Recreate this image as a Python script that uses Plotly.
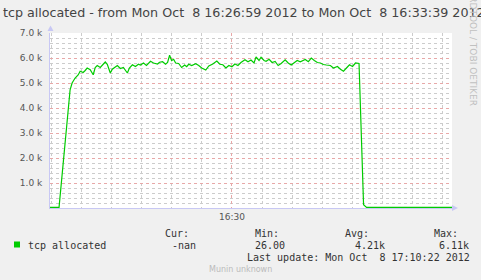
import plotly.graph_objects as go
import pandas as pd

title_text = "tcp allocated - from Mon Oct  8 16:26:59 2012 to Mon Oct  8 16:33:39 2012"
start_time = "2012-10-08 16:26:59"
end_time = "2012-10-08 16:33:39"

offsets_s = [0, 9, 20, 22, 25, 28, 30, 33, 35, 37, 40, 43, 45, 47, 50, 52, 55, 57, 60, 62,
             65, 67, 70, 73, 77, 79, 82, 85, 88, 90, 93, 96, 100, 103, 107, 109, 112, 115, 117, 119,
             121, 123, 125, 128, 131, 134, 136, 138, 141, 145, 148, 151, 155, 158, 162, 166, 169, 172, 175, 178,
             181, 184, 187, 190, 194, 197, 200, 203, 205, 208, 210, 213, 215, 218, 221, 224, 227, 230, 234, 237,
             240, 243, 246, 249, 252, 254, 257, 260, 263, 266, 269, 272, 275, 279, 282, 286, 289, 292, 295, 298,
             301, 304, 307.5, 312, 315, 400]
tcp_allocated = [26, 26, 4730, 5000, 5200, 5320, 5470, 5420, 5500, 5600, 5530, 5330, 5620, 5700, 5620, 5700, 5840, 5750, 5400, 5550,
                 5620, 5700, 5580, 5620, 5400, 5600, 5730, 5660, 5750, 5720, 5800, 5700, 5870, 5800, 5760, 5830, 5850, 5750, 5820, 6110,
                 5900, 5950, 5800, 5780, 5620, 5720, 5650, 5750, 5700, 5770, 5700, 5600, 5520, 5680, 5760, 5880, 5750, 5730, 5600, 5700,
                 5650, 5760, 5700, 5820, 5930, 5850, 5920, 5800, 6040, 5900, 6030, 5900, 5870, 5950, 5820, 5860, 5700, 5780, 5930, 5800,
                 5720, 5830, 5900, 5850, 5900, 5940, 5850, 6000, 5900, 5820, 5800, 5740, 5720, 5700, 5600, 5660, 5550, 5470, 5600, 5730,
                 5660, 5800, 5780, 130, 26, 26]

y_tick_vals = [1000, 2000, 3000, 4000, 5000, 6000, 7000]
y_tick_text = ["1.0 k", "2.0 k", "3.0 k", "4.0 k", "5.0 k", "6.0 k", "7.0 k"]
x_tick_vals = ["2012-10-08 16:30:00"]
x_tick_text = ["16:30"]

legend_name = "tcp allocated"
stat_headers = ["Cur:", "Min:", "Avg:", "Max:"]
stat_values = ["-nan", "26.00", "4.21k", "6.11k"]
last_update = "Last update: Mon Oct  8 17:10:22 2012"
footer = "Munin unknown"
watermark = "RRDTOOL / TOBI OETIKER"

times = pd.Timestamp(start_time) + pd.to_timedelta(offsets_s, unit="s")

W, H = 481, 280
L, R, T, B = 50, 29, 33, 72
PW, PH = W - L - R, H - T - B


def px(x):
    return (x - L) / PW


def py(y):
    return (H - B - y) / PH


fig = go.Figure()
fig.add_trace(go.Scatter(x=times, y=tcp_allocated, mode="lines",
                         line=dict(color="#00CC00", width=1.2), name=legend_name,
                         showlegend=False))

mono = "DejaVu Sans Mono"
sans = "DejaVu Sans"
txt = "#333333"

ann = []
ann.append(dict(text=title_text, x=px(1), y=py(13), xref="paper", yref="paper",
                xanchor="left", yanchor="middle", showarrow=False,
                font=dict(family=sans, size=12.7, color="#444444")))
ann.append(dict(text=watermark, x=px(473), y=py(108), xref="paper", yref="paper",
                xanchor="center", yanchor="bottom", showarrow=False, textangle=90,
                font=dict(family=sans, size=9, color="#C0C0C0")))
hdr_x = [163, 253, 343, 432]
val_x = [170, 253, 353, 437]
for h, xx in zip(stat_headers, hdr_x):
    ann.append(dict(text=h, x=px(xx), y=py(233), xref="paper", yref="paper",
                    xanchor="left", yanchor="middle", showarrow=False,
                    font=dict(family=mono, size=10, color=txt)))
for v, xx in zip(stat_values, val_x):
    ann.append(dict(text=v, x=px(xx), y=py(245), xref="paper", yref="paper",
                    xanchor="left", yanchor="middle", showarrow=False,
                    font=dict(family=mono, size=10, color=txt)))
ann.append(dict(text=legend_name, x=px(26), y=py(245), xref="paper", yref="paper",
                xanchor="left", yanchor="middle", showarrow=False,
                font=dict(family=mono, size=10, color=txt)))
ann.append(dict(text=last_update, x=px(245), y=py(257), xref="paper", yref="paper",
                xanchor="left", yanchor="middle", showarrow=False,
                font=dict(family=mono, size=10, color=txt)))
ann.append(dict(text=footer, x=px(240.5), y=py(269), xref="paper", yref="paper",
                xanchor="center", yanchor="middle", showarrow=False,
                font=dict(family=sans, size=8, color="#BBBBBB")))

axis_col = "#C8C8F4"
shapes = [
    dict(type="rect", xref="paper", yref="paper", x0=px(14), x1=px(20), y0=py(241.5), y1=py(247.5),
         fillcolor="#00CC00", line=dict(width=0)),
    dict(type="path", xref="paper", yref="paper",
         path=f"M {px(47.5)} {py(31)} L {px(50.5)} {py(25.5)} L {px(53.5)} {py(31)} Z",
         fillcolor=axis_col, line=dict(width=0)),
    dict(type="path", xref="paper", yref="paper",
         path=f"M {px(452)} {py(205)} L {px(458)} {py(208)} L {px(452)} {py(211)} Z",
         fillcolor=axis_col, line=dict(width=0)),
]

fig.update_layout(
    width=W, height=H,
    margin=dict(l=L, r=R, t=T, b=B, pad=0),
    paper_bgcolor="#F0F0F0", plot_bgcolor="#FFFFFF",
    annotations=ann, shapes=shapes,
    font=dict(family=sans, size=9, color="#555555"),
    xaxis=dict(type="date", range=[start_time, end_time],
               tickvals=x_tick_vals, ticktext=x_tick_text,
               showgrid=True, gridcolor="#E8A8A8", griddash="dot", gridwidth=1,
               minor=dict(dtick=30000, tick0="2012-10-08 16:30:00", showgrid=True,
                          gridcolor="#CCCCCC", griddash="dot", gridwidth=1, ticks=""),
               showline=True, linecolor=axis_col, linewidth=1,
               ticks="", zeroline=False,
               tickfont=dict(family=sans, size=9, color="#555555")),
    yaxis=dict(range=[0, 7000], tickvals=y_tick_vals, ticktext=y_tick_text,
               showgrid=True, gridcolor="#E8A8A8", griddash="dot", gridwidth=1,
               minor=dict(dtick=200, showgrid=True, gridcolor="#CCCCCC",
                          griddash="dot", gridwidth=1, ticks=""),
               showline=True, linecolor=axis_col, linewidth=1,
               ticks="", zeroline=False, ticklabelstandoff=5,
               tickfont=dict(family=sans, size=9, color="#555555")),
)

fig.write_html("out.html")
